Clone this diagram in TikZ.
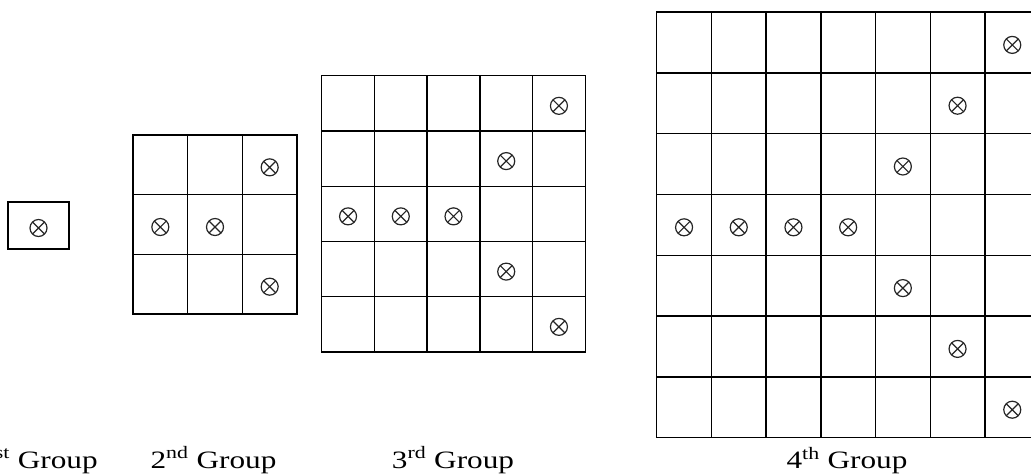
\documentclass[tikz,border=0pt]{standalone}
\usepackage{fontspec}
\setmainfont{Liberation Serif}
\usepackage{graphicx}
\usetikzlibrary{calc}
\tikzset{
  gridline/.style={draw=black, line width=1.4pt, line cap=rect},
  cellbox/.style={rectangle, inner sep=0pt, outer sep=0pt},
  markx/.style={circle, draw=black!85, line width=1.2pt, minimum size=17pt, inner sep=0pt,
    path picture={\draw[black!85, line width=1.2pt]
      (path picture bounding box.north west) -- (path picture bounding box.south east)
      (path picture bounding box.north east) -- (path picture bounding box.south west);}},
  grouplabel/.style={anchor=base, inner sep=0pt, font=\fontsize{25}{30}\selectfont}
}
\newcommand{\glabel}[2]{\scalebox{1.25}[1]{#1\textsuperscript{#2} Group}}
\begin{document}
\begin{tikzpicture}[x=1pt, y=-1pt]
\useasboundingbox (0,0) rectangle (1031,475);
\clip (0,0) rectangle (1031,475);
% ---- 1st group
\node[cellbox, gridline, minimum width=61pt, minimum height=47pt] (g1) at (38.5,225.5) {};
\node[markx] (g1m) at (38.5,228) {};
% ---- grids: name, x0, y0, cell w, cell h, n
\foreach \nm/\xo/\yo/\cw/\ch/\n in {g2/133/135/54.67/59.67/3, g3/321.7/75.7/52.72/55.26/5, g4/656.7/12/54.7/60.8/7}{
  \pgfmathtruncatemacro{\k}{(\n-1)/2}
  \pgfmathtruncatemacro{\midr}{\k+1}
  % cells (named, undrawn)
  \foreach \r in {1,...,\n}{
    \foreach \c in {1,...,\n}{
      \node[cellbox, minimum width=\cw pt, minimum height=\ch pt]
        (\nm-\r-\c) at ({\xo+(\c-0.5)*\cw},{\yo+(\r-0.5)*\ch}) {};
    }
  }
  % grid lines
  \foreach \i in {0,...,\n}{
    \draw[gridline] ({\xo+\i*\cw},\yo) -- ({\xo+\i*\cw},{\yo+\n*\ch});
    \draw[gridline] (\xo,{\yo+\i*\ch}) -- ({\xo+\n*\cw},{\yo+\i*\ch});
  }
  % marks
  \foreach \r in {1,...,\n}{
    \ifnum\r=\midr
      \foreach \c in {1,...,\midr}{
        \node[markx] (\nm-m-\r-\c) at ($(\nm-\r-\c.center)+(0,2.5)$) {};
      }
    \else
      \pgfmathtruncatemacro{\cc}{\k+1+abs(\r-\k-1)}
      \node[markx] (\nm-m-\r) at ($(\nm-\r-\cc.center)+(0,2.5)$) {};
    \fi
  }
}
% ---- labels
\node[grouplabel] (l1) at (38.5,468) {\glabel{1}{st}};
\node[grouplabel] (l2) at (213.5,468) {\glabel{2}{nd}};
\node[grouplabel] (l3) at (453,468) {\glabel{3}{rd}};
\node[grouplabel] (l4) at (847,468.5) {\glabel{4}{th}};
\end{tikzpicture}
\end{document}
